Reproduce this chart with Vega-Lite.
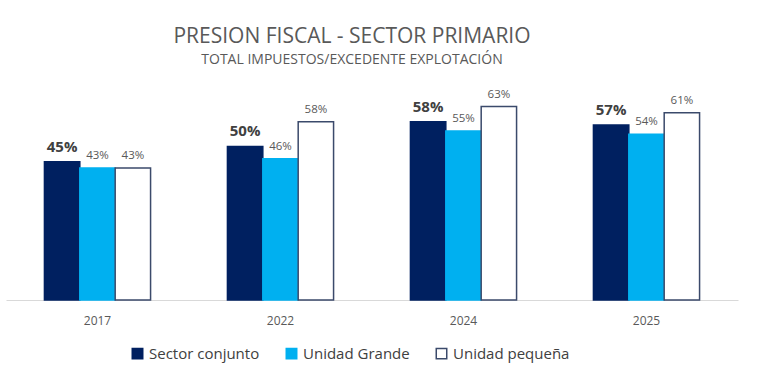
{
  "$schema": "https://vega.github.io/schema/vega-lite/v6.json",
  "width": 732,
  "height": 215,
  "autosize": "none",
  "padding": {"left": 6, "top": 85, "right": 30, "bottom": 91},
  "background": "white",
  "title": {
    "text": "PRESION FISCAL - SECTOR PRIMARIO",
    "subtitle": "TOTAL IMPUESTOS/EXCEDENTE EXPLOTACIÓN",
    "anchor": "middle",
    "dx": -20,
    "offset": 18,
    "font": "Open Sans",
    "fontSize": 21,
    "fontWeight": "normal",
    "color": "#595959",
    "subtitleFont": "Open Sans",
    "subtitleFontSize": 14,
    "subtitleColor": "#595959",
    "subtitlePadding": 6
  },
  "data": {
    "values": [
      {"anio": "2017", "serie": "Sector conjunto", "valor": 0.45},
      {"anio": "2017", "serie": "Unidad Grande", "valor": 0.43},
      {"anio": "2017", "serie": "Unidad pequeña", "valor": 0.43},
      {"anio": "2022", "serie": "Sector conjunto", "valor": 0.50},
      {"anio": "2022", "serie": "Unidad Grande", "valor": 0.46},
      {"anio": "2022", "serie": "Unidad pequeña", "valor": 0.58},
      {"anio": "2024", "serie": "Sector conjunto", "valor": 0.58},
      {"anio": "2024", "serie": "Unidad Grande", "valor": 0.55},
      {"anio": "2024", "serie": "Unidad pequeña", "valor": 0.63},
      {"anio": "2025", "serie": "Sector conjunto", "valor": 0.57},
      {"anio": "2025", "serie": "Unidad Grande", "valor": 0.54},
      {"anio": "2025", "serie": "Unidad pequeña", "valor": 0.61}
    ]
  },
  "encoding": {
    "x": {
      "field": "anio",
      "type": "nominal",
      "scale": {"paddingInner": 0.42, "paddingOuter": 0.21},
      "axis": {
        "title": null,
        "labelAngle": 0,
        "ticks": false,
        "domainColor": "#D9D9D9",
        "domainWidth": 1,
        "labelFont": "Open Sans",
        "labelFontSize": 12,
        "labelColor": "#595959",
        "labelPadding": 15
      }
    },
    "xOffset": {"field": "serie", "type": "nominal", "sort": ["Sector conjunto", "Unidad Grande", "Unidad pequeña"], "scale": {"paddingInner": 0, "paddingOuter": 0}},
    "y": {
      "field": "valor",
      "type": "quantitative",
      "scale": {"domain": [0, 0.7], "nice": false},
      "axis": null
    }
  },
  "layer": [
    {
      "mark": {"type": "bar", "strokeWidth": 1.5},
      "encoding": {
        "fill": {
          "field": "serie",
          "type": "nominal",
          "scale": {"domain": ["Sector conjunto", "Unidad Grande", "Unidad pequeña"], "range": ["#002060", "#00B0F0", "#FFFFFF"]},
          "legend": {
            "title": null,
            "orient": "none",
            "direction": "horizontal",
            "legendX": 124,
            "legendY": 261,
            "symbolType": "square",
            "symbolSize": 110,
            "labelFont": "Open Sans",
            "labelFontSize": 15,
            "labelColor": "#404040",
            "columnPadding": 23,
            "labelOffset": 4
          }
        },
        "stroke": {
          "field": "serie",
          "type": "nominal",
          "scale": {"domain": ["Sector conjunto", "Unidad Grande", "Unidad pequeña"], "range": ["#002060", "#00B0F0", "#3B4A6B"]},
          "legend": {
            "title": null,
            "orient": "none",
            "direction": "horizontal",
            "legendX": 124,
            "legendY": 261,
            "symbolType": "square",
            "symbolSize": 110,
            "labelFont": "Open Sans",
            "labelFontSize": 15,
            "labelColor": "#404040",
            "columnPadding": 23,
            "labelOffset": 4
          }
        }
      }
    },
    {
      "transform": [{"filter": "datum.serie === 'Sector conjunto'"}],
      "mark": {"type": "text", "baseline": "bottom", "dy": -7, "font": "Open Sans", "fontSize": 15, "fontWeight": "bold", "color": "#404040"},
      "encoding": {
        "text": {"field": "valor", "type": "quantitative", "format": ".0%"}
      }
    },
    {
      "transform": [{"filter": "datum.serie !== 'Sector conjunto'"}],
      "mark": {"type": "text", "baseline": "bottom", "dy": -7, "font": "Open Sans", "fontSize": 11.5, "color": "#595959"},
      "encoding": {
        "text": {"field": "valor", "type": "quantitative", "format": ".0%"}
      }
    }
  ],
  "config": {"view": {"stroke": null}}
}
